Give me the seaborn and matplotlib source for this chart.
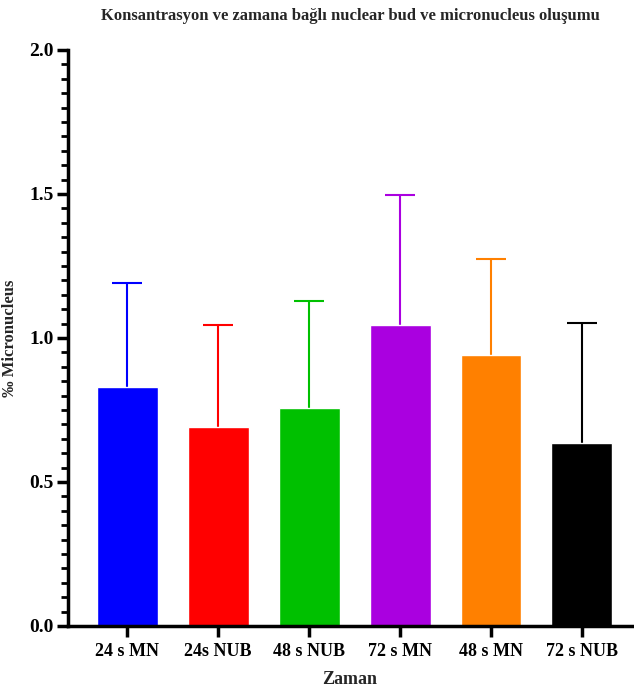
import matplotlib
matplotlib.use("Agg")
import matplotlib.pyplot as plt
import seaborn as sns
import pandas as pd
import numpy as np
from matplotlib.ticker import MultipleLocator

categories = ["24 s MN", "24s NUB", "48 s NUB", "72 s MN", "48 s MN", "72 s NUB"]
means = [0.83, 0.69, 0.757, 1.045, 0.941, 0.635]
errors = [0.36, 0.355, 0.371, 0.452, 0.333, 0.417]
colors = ["#0000FF", "#FF0000", "#00C000", "#AA00E0", "#FF8000", "#000000"]

sns.set_theme(style="white")
plt.rcParams['font.family'] = ['Liberation Serif', 'DejaVu Serif']
plt.rcParams['font.weight'] = 'bold'

df = pd.DataFrame({"Zaman": categories, "val": means})

fig = plt.figure(figsize=(6.34, 6.88), dpi=100)
ax = fig.add_axes([68/634, 62/688, (632-68)/634, (626-50)/688])

sns.barplot(data=df, x="Zaman", y="val", hue="Zaman", palette=colors,
            width=0.67, legend=False, ax=ax, saturation=1, errorbar=None, zorder=2)

for i, (m, e, c) in enumerate(zip(means, errors, colors)):
    _, caps, _ = ax.errorbar(i, m, yerr=[[0], [e]], fmt="none", ecolor=c, elinewidth=1.5,
                             capsize=11, capthick=1.5, zorder=1)
    if len(caps) > 1:
        caps[0].set_visible(False)

ax.set_xlim(-0.65, 5.55)
ax.set_ylim(0, 2.0)
ax.yaxis.set_major_locator(MultipleLocator(0.5))
ax.yaxis.set_minor_locator(MultipleLocator(0.05))
ax.yaxis.set_major_formatter(matplotlib.ticker.FormatStrFormatter('%.1f'))

for s in ["top", "right"]:
    ax.spines[s].set_visible(False)
for s in ["left", "bottom"]:
    ax.spines[s].set_linewidth(2.5)
    ax.spines[s].set_color("black")
    ax.spines[s].set_zorder(3)

ax.tick_params(axis="y", which="major", direction="out", length=8, width=2.5,
               labelsize=14, left=True, colors="black", pad=2)
ax.tick_params(axis="y", which="minor", direction="out", length=5, width=2, left=True, colors="black")
ax.tick_params(axis="x", which="major", direction="out", length=8, width=2.5,
               labelsize=13, bottom=True, colors="black", pad=4)
for lab in ax.get_xticklabels() + ax.get_yticklabels():
    lab.set_fontweight("bold")

ax.set_xlabel("Zaman", fontsize=13, fontweight="bold", labelpad=8)
ax.set_ylabel("‰ Micronucleus", fontsize=12, fontweight="bold")
ax.yaxis.set_label_coords(-(68 - 18) / (632 - 68), 0.5)
fig.text(350/634, 1 - 16/688, "Konsantrasyon ve zamana bağlı nuclear bud ve micronucleus oluşumu",
         ha="center", va="center", fontsize=12, fontweight="bold")
ax.grid(False)

fig.savefig("out.png", dpi=100)
